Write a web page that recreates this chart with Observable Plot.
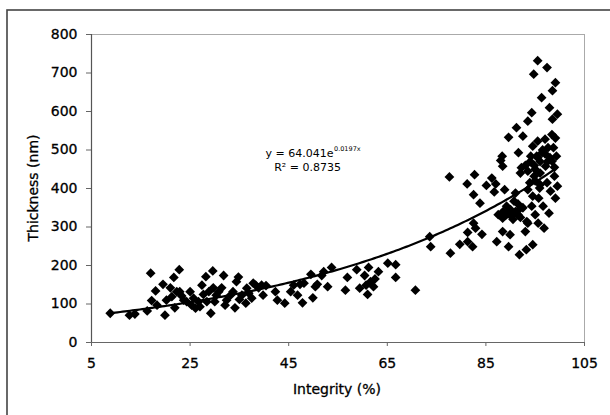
<!DOCTYPE html>
<html>
<head>
<meta charset="utf-8">
<script src="https://cdn.jsdelivr.net/npm/d3@7"></script>
<script src="https://cdn.jsdelivr.net/npm/@observablehq/plot@0.6"></script>
<style>
  html, body { margin: 0; padding: 0; background: #fff; }
  #chart { width: 610px; height: 415px; }
  #chart svg text.heavy, #chart svg g[aria-label$="tick label"] text { stroke: #000; stroke-width: 0.3px; }
</style>
</head>
<body>
<div id="chart"></div>
<script>
// Integrity (%) values
const integrity = [
  8.8, 12.7, 13.8, 16.3, 17.0, 17.2, 18.0, 18.3, 19.5, 19.9, 20.2, 21.0, 21.3, 21.7, 21.9, 22.3, 22.8, 22.9, 23.3, 23.7,
  24.3, 25.0, 25.3, 25.7, 26.1, 26.7, 27.0, 27.4, 27.7, 28.2, 28.4, 28.8, 29.2, 29.6, 29.7, 30.0, 30.3, 30.8, 31.4, 31.8,
  32.1, 32.4, 33.2, 33.7, 34.1, 34.4, 34.8, 35.0, 35.5, 36.3, 36.5, 36.9, 37.5, 37.8, 38.3, 38.9, 39.5, 39.8, 40.4, 42.3,
  42.7, 44.2, 45.4, 46.0, 46.8, 47.3, 47.8, 48.1, 49.5, 49.9, 50.4, 50.8, 51.7, 52.1, 52.9, 53.7, 56.5, 56.9, 58.8, 59.4,
  60.4, 60.7, 61.0, 61.2, 61.6, 62.2, 62.5, 63.2, 65.1, 66.7, 66.7, 70.7,
  73.6, 73.8, 77.6, 77.8, 79.7, 81.2, 81.3, 81.3, 82.3, 82.5, 82.5, 82.7, 82.9, 83.8, 84.2, 85.1, 86.2, 86.7, 87.0, 87.2,
  87.5, 88.0, 88.3, 88.4, 88.4, 88.4, 88.8, 89.2, 89.6, 89.6, 89.9, 90.2, 90.7, 91.0, 91.2, 91.5, 91.6, 91.8, 92.0, 92.2,
  92.5, 93.0, 93.2, 93.3, 93.5, 93.5, 93.9, 94.1, 94.3, 94.3, 94.5, 94.5, 94.7, 94.8, 95.0, 95.3, 95.5, 95.5, 95.6, 95.7,
  95.9, 96.3, 96.4, 96.6, 96.8, 97.0, 97.1, 97.4, 97.4, 97.6, 97.8, 97.9, 98.1, 98.4, 98.4, 98.5, 98.5, 98.7, 98.9, 99.1,
  99.1, 99.3, 99.5, 99.5, 99.1, 98.9,
  93.0, 94.0, 95.0, 96.0, 92.0, 93.5, 94.8, 95.5, 96.0, 97.0, 96.5, 91.0, 90.0, 89.5, 90.5, 91.5, 92.0, 92.5, 93.5, 94.5,
  95.0, 96.0, 97.5, 98.0, 88.5, 89.0
];
// Thickness (nm) values
const thickness = [
  76, 71, 74, 82, 180, 109, 134, 97, 151, 71, 110, 142, 119, 169, 90, 132, 189, 132, 121, 110,
  106, 132, 97, 115, 89, 106, 93, 149, 125, 171, 106, 132, 76, 186, 142, 106, 123, 132, 142, 174,
  97, 110, 123, 132, 90, 158, 170, 112, 123, 102, 141, 128, 115, 154, 149, 142, 149, 123, 148, 132,
  110, 102, 132, 149, 123, 151, 103, 154, 177, 116, 145, 151, 174, 184, 145, 195, 136, 169, 189, 141,
  174, 149, 125, 195, 158, 145, 165, 184, 206, 202, 169, 136,
  275, 249, 430, 232, 255, 412, 286, 262, 249, 310, 384, 436, 297, 362, 281, 408, 427, 391, 412, 262,
  332, 473, 484, 458, 323, 288, 397, 354, 533, 249, 280, 328, 367, 388, 558, 332, 493, 228, 349, 454,
  536, 288, 241, 314, 575, 397, 415, 484, 597, 354, 510, 254, 697, 432, 332, 484, 732, 523, 310, 375,
  401, 636, 493, 354, 297, 528, 458, 714, 415, 506, 336, 610, 393, 540, 471, 654, 580, 506, 432, 675,
  375, 484, 406, 593, 531, 455,
  460, 470, 450, 470, 440, 445, 460, 480, 440, 490, 500, 340, 345, 335, 320, 360, 325, 350, 310, 380,
  420, 410, 470, 480, 340, 330
];
// Trend line coefficients (y = a·e^(b·x)) and label text
const trendA = [64.041];
const trendB = [0.0197];
const trendRange = [8.8, 99.5];
const eqMain = ["y = 64.041e"];
const eqExp = ["0.0197x"];
const eqR2 = ["R² = 0.8735"];
const xTicks = [5, 25, 45, 65, 85, 105];
const yTicks = [0, 100, 200, 300, 400, 500, 600, 700, 800];

const points = integrity.map((x, i) => ({x, y: thickness[i]}));
const trend = d3.range(trendRange[0], trendRange[1] + 0.001, 0.5)
  .map(x => ({x, y: trendA[0] * Math.exp(trendB[0] * x)}));

const font = "DejaVu Sans, Verdana, sans-serif";

const plot = Plot.plot({
  width: 610,
  height: 415,
  marginLeft: 91,
  marginRight: 26,
  marginTop: 34,
  marginBottom: 73,
  style: {fontFamily: font, fontSize: "14px", color: "#000", background: "#fff"},
  x: {domain: [5, 105], ticks: xTicks, label: null},
  y: {domain: [0, 800], ticks: yTicks, label: null},
  marks: [
    Plot.ruleY([800], {stroke: "#aaa", strokeWidth: 1}),
    Plot.ruleX([105], {stroke: "#aaa", strokeWidth: 1}),
    Plot.axisX({ticks: xTicks, tickSize: 4, tickPadding: 12, stroke: "#666", fontSize: 14, label: null}),
    Plot.axisY({ticks: yTicks, tickSize: 5, tickPadding: 9, stroke: "#666", fontSize: 14, label: null}),
    Plot.ruleX([5], {stroke: "#555", strokeWidth: 1.2}),
    Plot.ruleY([0], {stroke: "#666", strokeWidth: 1.2}),
    Plot.line(trend, {x: "x", y: "y", stroke: "#000", strokeWidth: 2.2}),
    Plot.dot(points, {x: "x", y: "y", symbol: "square", rotate: 45, r: 3.9, fill: "#000", stroke: "none"}),
    Plot.text(eqMain, {x: 47.4, y: 490, text: d => d, textAnchor: "end", dx: 33, fontSize: 11, fill: "#000"}),
    Plot.text(eqExp, {x: 47.4, y: 490, text: d => d, textAnchor: "start", dx: 33.5, dy: -5, fontSize: 6.5, fill: "#000"}),
    Plot.text(eqR2, {x: 47.4, y: 490, text: d => d, textAnchor: "middle", dx: 7, dy: 14, fontSize: 11, fill: "#000"})
  ]
});

const svg = d3.select(plot);
// outer frame (left and top edges visible)
svg.insert("rect", ":first-child")
  .attr("x", 7).attr("y", 10).attr("width", 620).attr("height", 420)
  .attr("fill", "none").attr("stroke", "#444").attr("stroke-width", 1.6);
svg.append("text").attr("class", "heavy")
  .attr("transform", "translate(34,188) rotate(-90)")
  .attr("text-anchor", "middle").attr("dominant-baseline", "middle")
  .attr("font-family", font).attr("font-size", 14).attr("fill", "#000")
  .text("Thickness (nm)");
svg.append("text").attr("class", "heavy")
  .attr("x", 337).attr("y", 390)
  .attr("text-anchor", "middle").attr("dominant-baseline", "middle")
  .attr("font-family", font).attr("font-size", 14).attr("fill", "#000")
  .text("Integrity (%)");

document.getElementById("chart").appendChild(plot);
</script>
</body>
</html>
